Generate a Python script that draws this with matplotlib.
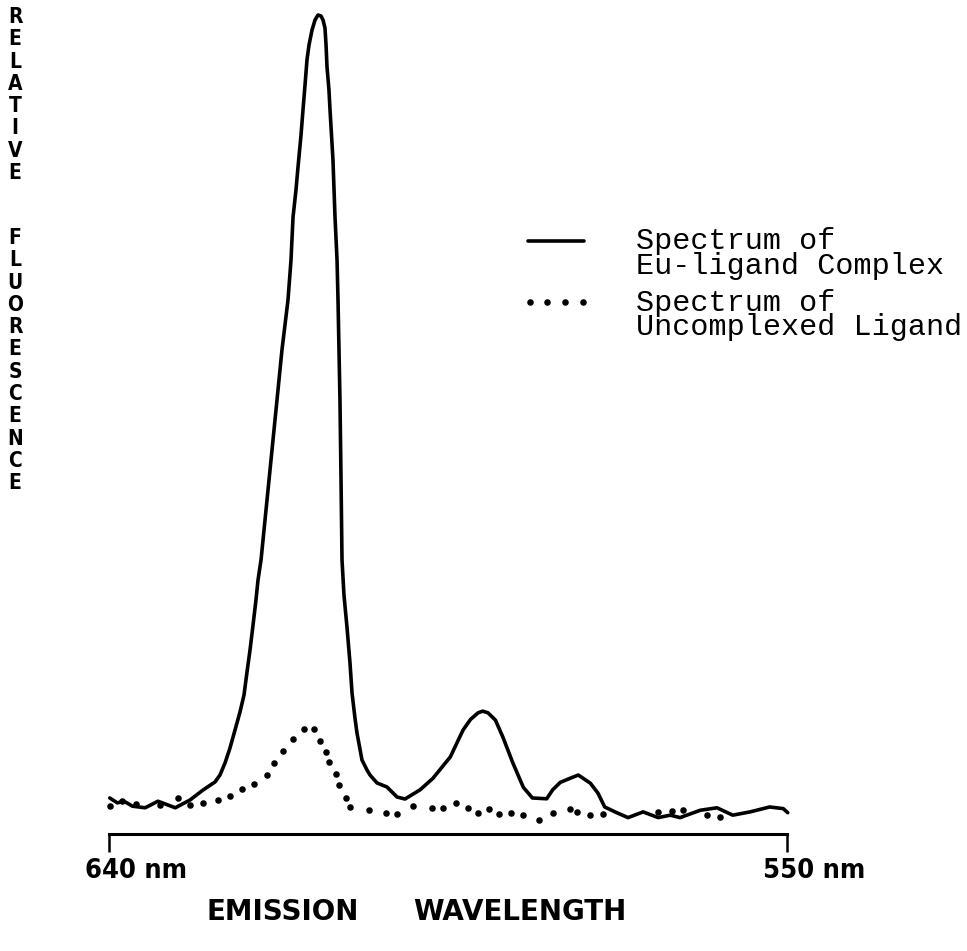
import matplotlib
matplotlib.use("Agg")
import matplotlib.pyplot as plt
from matplotlib.legend_handler import HandlerLine2D

# ---- data ----
# wavelength (nm) and relative fluorescence (peak = 100)
complex_wl = [639.9, 638.9, 638.0, 636.9, 635.2, 633.5, 631.2, 629.25, 627.52, 625.93,
              625.27, 624.60, 623.94, 623.27, 622.61, 622.08, 621.68, 621.28, 620.88, 620.49,
              620.22, 619.82, 619.29, 618.76, 618.23, 617.70, 617.04, 616.24, 615.84, 615.57,
              615.18, 614.91, 614.51, 614.25, 613.98, 613.72, 613.45, 613.05, 612.65, 612.26,
              611.86, 611.59, 611.33, 611.19, 611.06, 610.80, 610.66, 610.27, 610.00, 609.73,
              609.60, 609.34, 609.20, 609.07, 608.81, 608.41, 608.01, 607.74, 607.35, 607.08,
              606.42, 605.75, 605.35, 604.42, 603.10, 601.77, 600.71, 598.7, 597.0, 594.7,
              593.0, 592.0, 591.0, 590.4, 589.7, 588.7, 587.7, 586.4, 585.0, 583.8,
              581.9, 581.1, 580.1, 578.8, 577.7, 576.1, 575.1, 574.2, 572.6, 571.1,
              569.1, 567.1, 565.5, 564.2, 561.5, 559.3, 557.2, 554.9, 552.3, 550.5,
              549.9]
complex_val = [4.4, 3.8, 4.0, 3.4, 3.2, 4.0, 3.2, 4.15, 5.37, 6.35,
               7.20, 8.67, 10.50, 12.70, 14.90, 16.97, 19.78, 22.47, 25.52, 28.57,
               31.01, 33.46, 38.34, 43.22, 48.11, 52.99, 59.10, 65.20, 70.09, 75.34,
               78.63, 81.44, 85.35, 88.40, 91.45, 94.51, 96.34, 98.17, 99.39, 100.0,
               99.88, 99.39, 98.41, 96.34, 93.65, 90.84, 88.40, 82.30, 75.34, 70.09,
               65.20, 52.99, 43.22, 33.46, 29.18, 25.27, 20.88, 17.22, 14.16, 12.33,
               9.04, 7.81, 7.20, 6.23, 5.74, 4.52, 4.27, 5.4, 6.8, 9.4,
               12.7, 14.0, 14.8, 15.0, 14.8, 13.9, 11.8, 8.7, 5.7, 4.4,
               4.3, 5.4, 6.3, 6.8, 7.2, 6.2, 5.0, 3.3, 2.6, 2.0,
               2.7, 2.0, 2.3, 2.0, 2.9, 3.2, 2.3, 2.7, 3.3, 3.1,
               2.6]

ligand_wl = [639.9, 638.3, 636.4, 633.2, 630.8, 629.2, 627.5, 625.5, 623.9, 622.3,
             620.8, 619.0, 618.1, 616.9, 615.6, 614.1, 612.8, 612.0, 611.2, 610.8,
             609.9, 609.5, 608.5, 608.0, 605.5, 603.2, 601.8, 599.6, 597.1, 595.7,
             593.9, 592.3, 591.0, 589.6, 588.2, 586.6, 585.0, 582.9, 581.1, 578.8,
             577.9, 576.1, 574.4, 567.1, 565.3, 563.8, 560.6, 558.9]
ligand_val = [3.4, 4.0, 3.7, 3.5, 4.4, 3.5, 3.8, 4.2, 4.6, 5.5,
              6.1, 7.2, 8.7, 10.1, 11.6, 12.8, 12.8, 11.4, 10.0, 8.8,
              7.3, 6.0, 4.4, 3.3, 2.9, 2.6, 2.4, 3.4, 3.2, 3.2,
              3.8, 3.2, 2.6, 3.1, 2.4, 2.6, 2.3, 1.7, 2.6, 3.1,
              2.7, 2.3, 2.4, 2.7, 2.8, 2.9, 2.3, 2.1]

tick_wl = [640, 550]
tick_labels = ["640 nm", "550 nm"]
series_labels = ["Spectrum of\nEu-ligand Complex", "Spectrum of\nUncomplexed Ligand"]
ylabel_words = ["RELATIVE", "FLUORESCENCE"]
xlabel_words = ["EMISSION", "WAVELENGTH"]

W, H = 967, 951
fig = plt.figure(figsize=(W / 100, H / 100), dpi=100)
ax = fig.add_axes([0, 0, 1, 1])
ax.set_facecolor("white")

ax.plot(complex_wl, complex_val, color="black", lw=2.6, solid_joinstyle="round",
        solid_capstyle="round", label=series_labels[0])
ax.plot(ligand_wl, ligand_val, color="black", ls="none", marker="o", ms=3.7,
        label=series_labels[1])

# map so that 640 nm -> px 109, 550 nm -> px 787; value 0 -> py 834, 100 -> py 15
pxn = (787 - 109) / 90.0
ax.set_xlim(640 + 109 / pxn, 640 - (W - 109) / pxn)
pyv = (834 - 15) / 100.0
ax.set_ylim(-(H - 834) / pyv, 834 / pyv)

for s in ["top", "left", "right"]:
    ax.spines[s].set_visible(False)
ax.spines["bottom"].set_position(("data", 0))
ax.spines["bottom"].set_bounds(min(tick_wl), max(tick_wl))
ax.spines["bottom"].set_linewidth(2.2)
ax.set_yticks([])
ax.set_xticks(tick_wl)
ax.set_xticklabels([])
ax.tick_params(axis="x", direction="out", length=13, width=1.8, color="black")

lab_font = dict(family="DejaVu Sans", fontweight="bold", fontstretch="condensed")
for wl, lab in zip(tick_wl, tick_labels):
    ax.annotate(lab, xy=(wl, 0), xytext=(19.5, -26.5), textcoords="offset points",
                ha="center", va="center", fontsize=19.5, **lab_font)

# x-axis title, two widely separated words
for word, cx in zip(xlabel_words, [283, 520]):
    fig.text(cx / W, 1 - 912 / H, word, ha="center", va="center", fontsize=20,
             family="DejaVu Sans", fontweight="bold")

# vertical stacked y-axis label
starts = [17, 238]
step = 22.3
for word, y0 in zip(ylabel_words, starts):
    for i, ch in enumerate(word):
        fig.text(15 / W, 1 - (y0 + i * step) / H, ch, ha="center", va="center",
                 fontsize=15, **lab_font)


class ShiftedHandler(HandlerLine2D):
    def __init__(self, dy=0, **kw):
        super().__init__(**kw)
        self.dy = dy

    def create_artists(self, legend, orig_handle, xdescent, ydescent, width,
                       height, fontsize, trans):
        arts = super().create_artists(legend, orig_handle, xdescent, ydescent,
                                      width, height, fontsize, trans)
        for a in arts:
            a.set_ydata([y + self.dy for y in a.get_ydata()])
        return arts


handles, labels = ax.get_legend_handles_labels()
leg = ax.legend(handles, labels, loc="upper left",
                bbox_to_anchor=(528 / W, 1 - 227 / H), frameon=False,
                prop=dict(family="Liberation Mono", size=21.7),
                handlelength=1.86, handletextpad=1.73, labelspacing=0.3,
                borderpad=0, borderaxespad=0,
                handler_map={handles[0]: ShiftedHandler(dy=9.5),
                             handles[1]: ShiftedHandler(dy=9.5, numpoints=4,
                                                        marker_pad=0.05)})
for t in leg.get_texts():
    t.set_linespacing(0.85)

fig.savefig("out.png", dpi=100, facecolor="white")
